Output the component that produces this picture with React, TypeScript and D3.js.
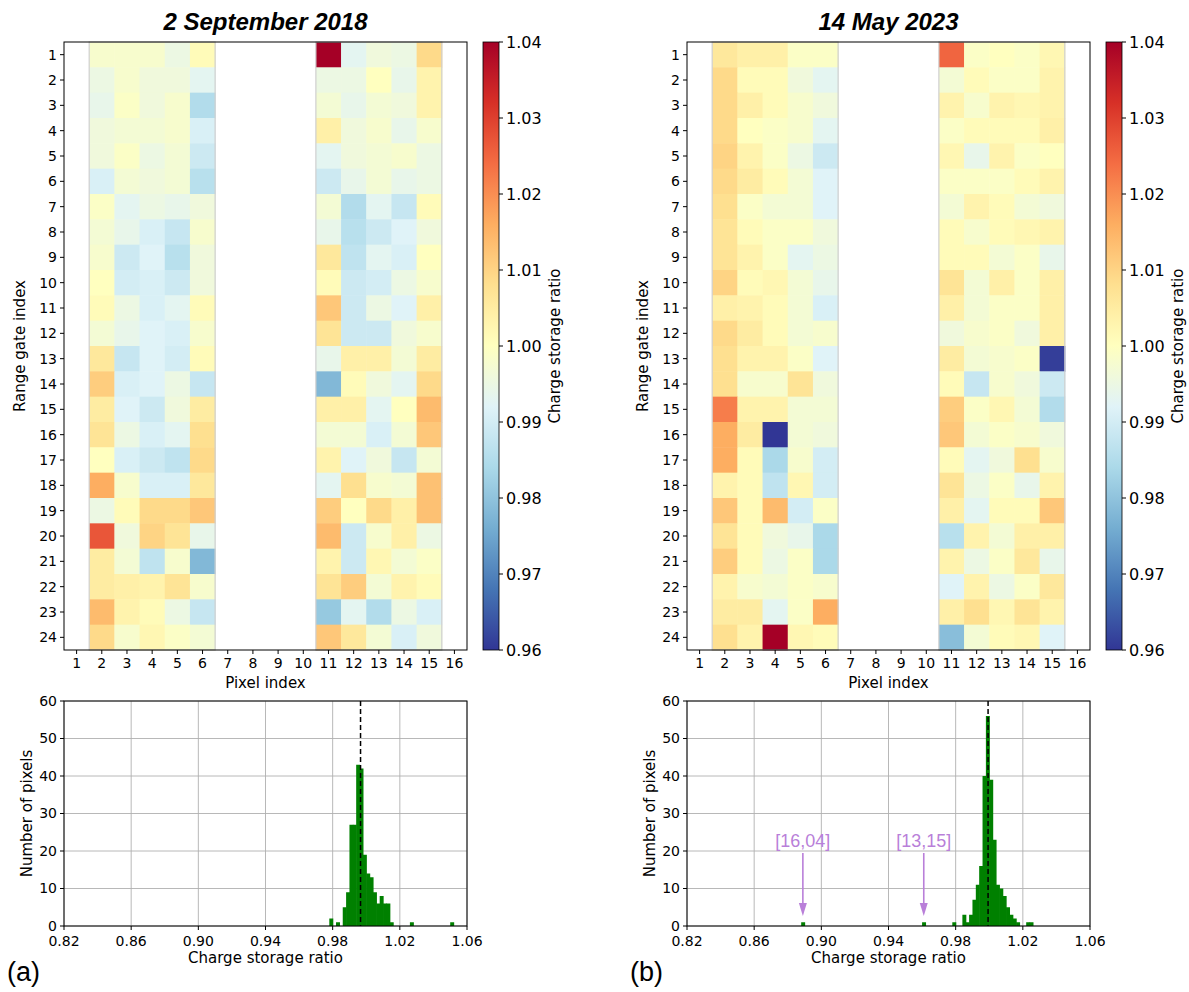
import React from "react";
import * as d3 from "d3";

// ---------------- DATA ----------------
const pixelColumns = d3.range(1, 17);
const dataColumns = [2, 3, 4, 5, 6, 11, 12, 13, 14, 15];
const rangeGates = d3.range(1, 25);

// rows = range gates 1..24, values for dataColumns
const sep2018: number[][] = [
  [0.998, 0.998, 0.998, 0.995, 1.001, 1.05, 0.993, 0.996, 0.995, 1.009],
  [0.995, 0.998, 0.996, 0.996, 0.993, 0.995, 0.995, 1.0, 0.994, 1.003],
  [0.994, 0.999, 0.996, 0.998, 0.985, 0.997, 0.994, 0.997, 0.996, 1.003],
  [0.996, 0.997, 0.997, 0.998, 0.991, 1.004, 0.996, 0.998, 0.994, 0.998],
  [0.996, 0.999, 0.995, 0.997, 0.989, 0.993, 0.996, 0.997, 0.998, 0.995],
  [0.991, 0.997, 0.996, 0.997, 0.986, 0.989, 0.994, 0.997, 0.994, 0.995],
  [0.999, 0.993, 0.995, 0.994, 0.996, 0.997, 0.985, 0.993, 0.988, 1.001],
  [0.997, 0.994, 0.991, 0.988, 0.998, 0.994, 0.986, 0.989, 0.992, 0.996],
  [0.998, 0.989, 0.992, 0.986, 0.996, 1.006, 0.987, 0.993, 0.991, 1.0],
  [1.0, 0.99, 0.991, 0.989, 0.996, 1.001, 0.989, 0.99, 0.995, 0.998],
  [1.001, 0.995, 0.991, 0.993, 1.001, 1.012, 0.989, 0.995, 0.992, 1.004],
  [0.997, 0.994, 0.992, 0.991, 0.998, 1.007, 0.989, 0.989, 0.996, 0.998],
  [1.006, 0.988, 0.992, 0.99, 1.001, 0.994, 1.004, 1.004, 0.997, 1.005],
  [1.011, 0.991, 0.992, 0.995, 0.988, 0.978, 1.001, 0.996, 0.993, 1.009],
  [1.005, 0.992, 0.989, 0.996, 1.005, 1.004, 1.004, 0.993, 1.0, 1.014],
  [1.007, 0.995, 0.991, 0.993, 1.008, 0.997, 0.997, 0.991, 0.997, 1.012],
  [1.0, 0.991, 0.989, 0.987, 1.009, 1.003, 0.992, 0.996, 0.988, 0.997],
  [1.016, 0.998, 0.991, 0.991, 1.006, 0.993, 1.008, 0.998, 0.997, 1.013],
  [0.995, 1.001, 1.009, 1.009, 1.012, 1.011, 1.0, 1.009, 1.004, 1.013],
  [1.027, 0.996, 1.01, 1.007, 0.994, 1.014, 0.989, 0.998, 1.004, 0.995],
  [1.005, 0.997, 0.987, 0.998, 0.978, 1.003, 0.989, 1.002, 0.997, 0.999],
  [1.005, 1.004, 1.003, 1.007, 0.998, 1.007, 1.011, 0.997, 1.003, 1.001],
  [1.014, 1.003, 1.001, 0.995, 0.988, 0.981, 0.993, 0.985, 0.995, 0.991],
  [1.009, 0.998, 1.002, 0.999, 0.997, 1.012, 1.006, 0.997, 0.991, 0.996],
];

const may2023: number[][] = [
  [1.006, 1.004, 1.004, 0.999, 0.999, 1.025, 0.999, 1.0, 0.999, 1.002],
  [1.009, 1.001, 1.001, 0.996, 0.993, 0.997, 1.001, 0.999, 0.999, 1.003],
  [1.009, 1.004, 1.001, 0.998, 0.996, 1.003, 0.998, 1.003, 1.002, 1.003],
  [1.009, 1.0, 0.999, 0.998, 0.993, 0.999, 1.001, 1.001, 1.001, 1.004],
  [1.01, 1.003, 0.999, 0.995, 0.989, 1.002, 0.994, 1.003, 0.999, 1.0],
  [1.009, 1.005, 1.001, 0.997, 0.992, 0.999, 0.999, 0.999, 1.001, 1.003],
  [1.008, 0.999, 0.997, 0.997, 0.992, 0.997, 1.003, 1.001, 0.997, 0.996],
  [1.007, 1.001, 0.999, 0.999, 0.996, 1.001, 0.998, 1.001, 1.002, 1.003],
  [1.007, 1.003, 0.999, 0.993, 0.995, 1.001, 1.001, 0.997, 0.999, 0.994],
  [1.01, 1.001, 1.002, 0.997, 0.994, 1.007, 0.997, 1.004, 0.999, 1.004],
  [1.004, 1.003, 1.001, 0.997, 0.991, 1.004, 0.997, 0.999, 0.999, 1.004],
  [1.009, 1.005, 1.001, 0.997, 0.998, 0.996, 0.998, 0.999, 0.996, 1.004],
  [1.008, 1.003, 1.003, 0.999, 0.992, 1.005, 0.997, 0.998, 0.999, 0.961],
  [1.008, 0.998, 0.998, 1.007, 0.996, 1.001, 0.988, 0.998, 0.996, 0.989],
  [1.022, 1.003, 1.003, 0.997, 0.997, 1.011, 0.999, 1.002, 0.997, 0.985],
  [1.016, 1.005, 0.889, 0.997, 0.996, 1.012, 0.997, 0.999, 0.998, 0.996],
  [1.016, 1.001, 0.984, 0.998, 0.99, 1.001, 0.993, 0.996, 1.008, 0.998],
  [1.003, 1.001, 0.987, 1.002, 0.99, 1.007, 0.995, 0.999, 0.994, 1.003],
  [1.012, 1.001, 1.014, 0.99, 0.999, 1.004, 0.993, 1.001, 1.001, 1.012],
  [1.007, 1.001, 0.996, 0.994, 0.984, 0.986, 1.003, 0.997, 1.004, 1.004],
  [1.011, 1.001, 0.995, 0.999, 0.984, 1.003, 0.995, 0.999, 1.006, 0.994],
  [1.003, 0.998, 0.997, 0.999, 0.998, 0.992, 1.003, 0.995, 0.999, 1.006],
  [1.005, 1.005, 0.993, 0.999, 1.016, 1.004, 1.008, 1.002, 1.007, 1.003],
  [1.008, 1.003, 1.045, 1.002, 1.001, 0.979, 0.997, 1.001, 1.002, 0.992],
];

const colorTicks = [0.96, 0.97, 0.98, 0.99, 1.0, 1.01, 1.02, 1.03, 1.04];
const histTicksX = [0.82, 0.86, 0.9, 0.94, 0.98, 1.02, 1.06];
const histTicksY = [0, 10, 20, 30, 40, 50, 60];
const binWidth = 0.002;

const sepBinStarts = [0.978, 0.982, 0.986, 0.988, 0.99, 0.992, 0.994, 0.996, 0.998, 1.0, 1.002, 1.004, 1.006, 1.008, 1.01, 1.012, 1.014, 1.026, 1.05];
const sepBinCounts = [2, 1, 5, 9, 27, 27, 43, 42, 19, 14, 13, 9, 6, 8, 6, 6, 1, 1, 1];
const sepMean = 0.9966;

const mayBinStarts = [0.888, 0.96, 0.978, 0.984, 0.986, 0.988, 0.99, 0.992, 0.994, 0.996, 0.998, 1.0, 1.002, 1.004, 1.006, 1.008, 1.01, 1.012, 1.014, 1.016, 1.022, 1.024];
const mayBinCounts = [1, 1, 1, 3, 1, 3, 7, 11, 16, 40, 56, 39, 23, 11, 10, 8, 5, 3, 2, 1, 1, 1];
const mayMean = 0.9993;

const mayAnnotationLabels = ["[16,04]", "[13,15]"];
const mayAnnotationValues = [0.889, 0.961];

// ---------------- STYLE ----------------
const FONT = "DejaVu Sans, sans-serif";
const SANS = "Liberation Sans, Arial, sans-serif";
const colorScale = d3
  .scaleSequential(d3.piecewise(d3.interpolateRgb, d3.schemeRdYlBu[11].slice().reverse()))
  .domain([0.96, 1.04])
  .clamp(true);

type PanelProps = {
  x0: number;
  title: string;
  grid: number[][];
  binStarts: number[];
  binCounts: number[];
  mean: number;
  letter: string;
  annLabels?: string[];
  annValues?: number[];
};

const HM_Y0 = 42;
const HM_Y1 = 650;
const HM_W = 403;
const H_Y0 = 701;
const H_Y1 = 926;
const PURPLE = "#b97fd9";

function Panel({ x0, title, grid, binStarts, binCounts, mean, letter, annLabels = [], annValues = [] }: PanelProps) {
  const x1 = x0 + HM_W;
  const xb = d3.scaleBand<number>().domain(pixelColumns).range([x0, x1]);
  const yb = d3.scaleBand<number>().domain(rangeGates).range([HM_Y0, HM_Y1]);
  const cbX0 = x1 + 16;
  const cbX1 = cbX0 + 16;
  const cbY = d3.scaleLinear().domain([0.96, 1.04]).range([HM_Y1, HM_Y0]);
  const gid = "grad" + x0;

  const hx = d3.scaleLinear().domain([0.82, 1.06]).range([x0, x1]);
  const hy = d3.scaleLinear().domain([0, 60]).range([H_Y1, H_Y0]);
  const cx = (x0 + x1) / 2;

  const blocks = [
    [2, 6],
    [11, 15],
  ];

  return (
    <g fontFamily={FONT}>
      <text x={cx} y={30} textAnchor="middle" fontSize={24} fontWeight="bold" fontStyle="italic" fontFamily={SANS}>
        {title}
      </text>
      {/* heatmap cells */}
      {grid.map((row, ri) =>
        row.map((v, ci) => (
          <rect
            key={ri + "-" + ci}
            x={xb(dataColumns[ci])!}
            y={yb(rangeGates[ri])!}
            width={xb.bandwidth() + 0.5}
            height={yb.bandwidth() + 0.5}
            fill={colorScale(v)}
          />
        ))
      )}
      {blocks.map(([a, b], i) => (
        <rect
          key={"blk" + i}
          x={xb(a)!}
          y={HM_Y0}
          width={xb(b)! + xb.bandwidth() - xb(a)!}
          height={HM_Y1 - HM_Y0}
          fill="none"
          stroke="#cfcfcf"
          strokeWidth={1.2}
        />
      ))}
      <rect x={x0} y={HM_Y0} width={HM_W} height={HM_Y1 - HM_Y0} fill="none" stroke="#000" strokeWidth={1} />
      {/* y ticks */}
      {rangeGates.map((g) => {
        const yy = yb(g)! + yb.bandwidth() / 2;
        return (
          <g key={"yt" + g}>
            <line x1={x0 - 4} x2={x0} y1={yy} y2={yy} stroke="#000" />
            <text x={x0 - 7} y={yy} dy="0.35em" textAnchor="end" fontSize={14}>
              {g}
            </text>
          </g>
        );
      })}
      {pixelColumns.map((c) => {
        const xx = xb(c)! + xb.bandwidth() / 2;
        return (
          <g key={"xt" + c}>
            <line x1={xx} x2={xx} y1={HM_Y1} y2={HM_Y1 + 4} stroke="#000" />
            <text x={xx} y={668} textAnchor="middle" fontSize={14}>
              {c}
            </text>
          </g>
        );
      })}
      <text x={cx} y={688} textAnchor="middle" fontSize={15}>
        Pixel index
      </text>
      <text transform={`translate(${x0 - 44},${(HM_Y0 + HM_Y1) / 2}) rotate(-90)`} textAnchor="middle" fontSize={15} dy="0.35em">
        Range gate index
      </text>
      {/* colorbar */}
      <defs>
        <linearGradient id={gid} x1="0" y1="1" x2="0" y2="0">
          {d3.range(0, 1.0001, 0.05).map((t) => (
            <stop key={t} offset={t} stopColor={colorScale(0.96 + t * 0.08)} />
          ))}
        </linearGradient>
      </defs>
      <rect x={cbX0} y={HM_Y0} width={cbX1 - cbX0} height={HM_Y1 - HM_Y0} fill={`url(#${gid})`} stroke="#000" strokeWidth={0.8} />
      {colorTicks.map((t) => (
        <g key={"ct" + t}>
          <line x1={cbX1} x2={cbX1 + 4} y1={cbY(t)} y2={cbY(t)} stroke="#000" />
          <text x={cbX1 + 7} y={cbY(t)} dy="0.35em" fontSize={16}>
            {t.toFixed(2)}
          </text>
        </g>
      ))}
      <text transform={`translate(${cbX1 + 56},${(HM_Y0 + HM_Y1) / 2}) rotate(-90)`} textAnchor="middle" fontSize={15} dy="0.35em">
        Charge storage ratio
      </text>

      {/* histogram */}
      {histTicksX.map((t) => (
        <line key={"gx" + t} x1={hx(t)} x2={hx(t)} y1={H_Y0} y2={H_Y1} stroke="#b0b0b0" strokeWidth={0.9} />
      ))}
      {histTicksY.map((t) => (
        <line key={"gy" + t} x1={x0} x2={x1} y1={hy(t)} y2={hy(t)} stroke="#b0b0b0" strokeWidth={0.9} />
      ))}
      {binStarts.map((b, i) => (
        <rect
          key={"bin" + i}
          x={hx(b)}
          y={hy(binCounts[i])}
          width={hx(b + binWidth) - hx(b) + 0.6}
          height={H_Y1 - hy(binCounts[i])}
          fill="#008000"
        />
      ))}
      <line x1={hx(mean)} x2={hx(mean)} y1={H_Y0} y2={H_Y1} stroke="#000" strokeWidth={1.5} strokeDasharray="5,3" />
      <rect x={x0} y={H_Y0} width={HM_W} height={H_Y1 - H_Y0} fill="none" stroke="#000" strokeWidth={1} />
      {histTicksX.map((t) => (
        <g key={"hxt" + t}>
          <line x1={hx(t)} x2={hx(t)} y1={H_Y1} y2={H_Y1 + 4} stroke="#000" />
          <text x={hx(t)} y={946} textAnchor="middle" fontSize={14}>
            {t.toFixed(2)}
          </text>
        </g>
      ))}
      {histTicksY.map((t) => (
        <g key={"hyt" + t}>
          <line x1={x0 - 4} x2={x0} y1={hy(t)} y2={hy(t)} stroke="#000" />
          <text x={x0 - 7} y={hy(t)} dy="0.35em" textAnchor="end" fontSize={14}>
            {t}
          </text>
        </g>
      ))}
      <text x={cx} y={963} textAnchor="middle" fontSize={15}>
        Charge storage ratio
      </text>
      <text transform={`translate(${x0 - 37},${(H_Y0 + H_Y1) / 2}) rotate(-90)`} textAnchor="middle" fontSize={15} dy="0.35em">
        Number of pixels
      </text>
      {annLabels.map((lab, i) => {
        const ax = hx(annValues[i]);
        return (
          <g key={"ann" + i}>
            <text x={ax} y={847} textAnchor="middle" fontSize={18} fill={PURPLE} fontFamily={SANS}>
              {lab}
            </text>
            <line x1={ax} x2={ax} y1={853} y2={910} stroke={PURPLE} strokeWidth={1.6} />
            <path d={`M${ax - 4},${903} L${ax + 4},${903} L${ax},${916} Z`} fill={PURPLE} />
          </g>
        );
      })}
      <text x={x0 - 57} y={981} fontSize={27} fontFamily={SANS}>
        {letter}
      </text>
    </g>
  );
}

export default function App() {
  return (
    <svg width={1189} height={992} style={{ display: "block", position: "absolute", left: 0, top: 0, background: "#fff" }}>
      <rect width={1189} height={992} fill="#fff" />
      <Panel
        x0={64}
        title="2 September 2018"
        grid={sep2018}
        binStarts={sepBinStarts}
        binCounts={sepBinCounts}
        mean={sepMean}
        letter="(a)"
      />
      <Panel
        x0={687}
        title="14 May 2023"
        grid={may2023}
        binStarts={mayBinStarts}
        binCounts={mayBinCounts}
        mean={mayMean}
        letter="(b)"
        annLabels={mayAnnotationLabels}
        annValues={mayAnnotationValues}
      />
    </svg>
  );
}
